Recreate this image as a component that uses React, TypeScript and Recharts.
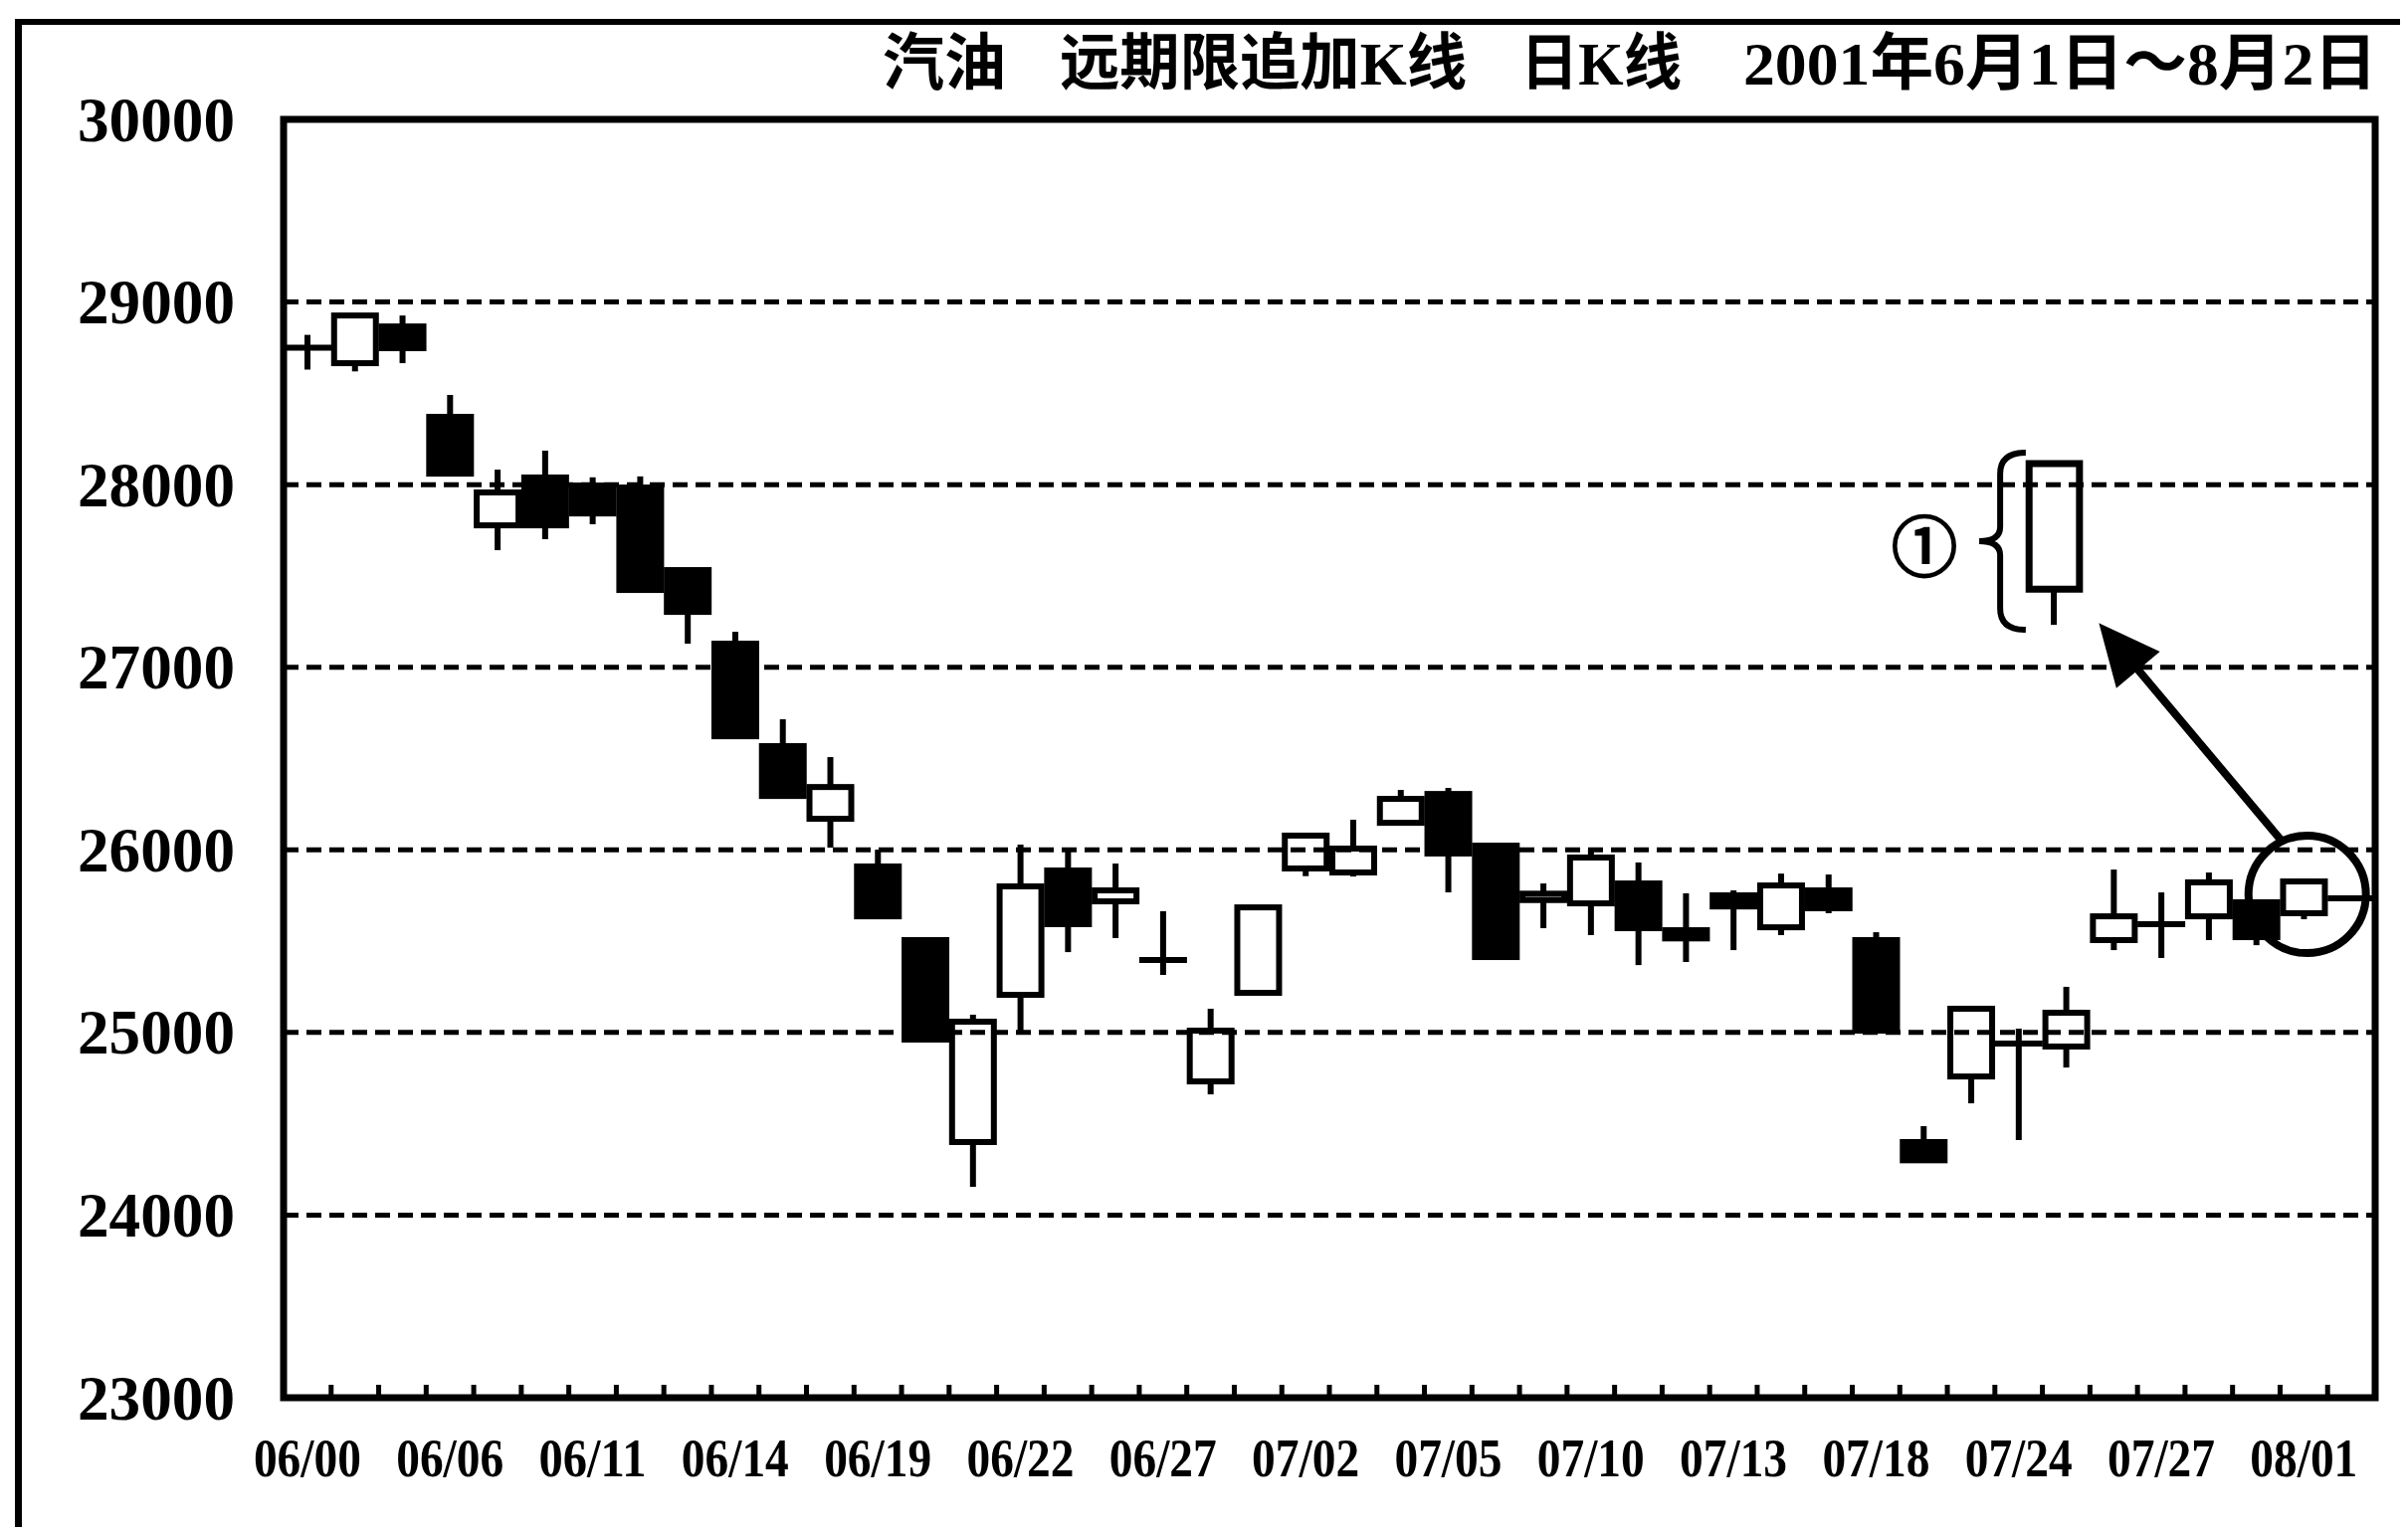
import React from 'react';
import { ComposedChart, Bar, XAxis, YAxis, ReferenceLine, ReferenceArea, ReferenceDot } from 'recharts';

// ---- data ----
const dates = [
  '06/01', '06/04', '06/05', '06/06', '06/07', '06/08', '06/11', '06/12', '06/13', '06/14', '06/15',
  '06/18', '06/19', '06/20', '06/21', '06/22', '06/25', '06/26', '06/27', '06/28', '06/29',
  '07/02', '07/03', '07/04', '07/05', '07/06', '07/09', '07/10', '07/11', '07/12', '07/13',
  '07/16', '07/17', '07/18', '07/19', '07/23', '07/24', '07/25', '07/26', '07/27', '07/30', '07/31',
  '08/01', '08/02',
];
const opens = [
  28750, 28665, 28866, 28371, 27777, 28039, 27995, 27984, 27532, 27129, 26568,
  26170, 25909, 25506, 24400, 25206, 25887, 25718, 25397, 24732, 25217,
  25898, 25876, 26148, 26306, 26023, 25725, 25707, 25816, 25560, 25751,
  25576, 25778, 25506, 24400, 24759, 24939, 24923, 25506, 25593, 25636, 25713,
  25653, 25734,
];
const highs = [
  28820, 28926, 28926, 28491, 28082, 28186, 28040, 28045, 27540, 27194, 26715,
  26508, 26001, 25506, 25097, 26029, 25996, 25925, 25664, 25130, 25685,
  26078, 26165, 26328, 26339, 26023, 25816, 26007, 25931, 25762, 25778,
  25870, 25865, 25549, 24487, 25140, 25021, 25250, 25892, 25767, 25876, 25720,
  25840, 25750,
];
const lows = [
  28630, 28620, 28665, 28060, 27641, 27701, 27783, 27423, 27129, 26622, 26290,
  26012, 25636, 24961, 24155, 24994, 25440, 25517, 25315, 24661, 25217,
  25856, 25854, 26148, 25767, 25413, 25571, 25533, 25369, 25386, 25451,
  25533, 25653, 25010, 24296, 24612, 24411, 24808, 25451, 25408, 25506, 25478,
  25620, 25720,
];
const closes = [
  28750, 28926, 28747, 28060, 27957, 27777, 27842, 27423, 27303, 26622, 26295,
  26344, 25636, 24961, 25059, 25800, 25593, 25778, 25397, 25010, 25685,
  26078, 26007, 26279, 25980, 25413, 25760, 25958, 25571, 25515, 25690,
  25805, 25680, 25010, 24300, 25130, 24939, 25108, 25636, 25593, 25822, 25522,
  25827, 25734,
];
const tickLabels = [
  '06/00', '06/06', '06/11', '06/14', '06/19', '06/22', '06/27', '07/02',
  '07/05', '07/10', '07/13', '07/18', '07/24', '07/27', '08/01',
];
const yTicks = [23000, 24000, 25000, 26000, 27000, 28000, 29000, 30000];
const gridValues = [24000, 25000, 26000, 27000, 28000, 29000];

// annotation (example long white candle, brace, circled mark, arrow)
const noteBodyX = [36.72, 37.78];
const noteBodyY = [27428, 28115];
const noteWick = { x: 37.24, from: 27428, to: 27232 };
const braceX = [35.67, 36.65];
const braceY = [27205, 28175];
const markPos = { x: 34.52, y: 27684 };
const circlePos = { x: 42.57, y: 25756 };
const arrowFrom = { x: 42.03, y: 26050 };
const arrowTo = { x: 38.22, y: 27232 };

const chartData = dates.map((d, i) => ({
  date: d,
  xi: i + 0.5,
  range: [lows[i], highs[i]],
  open: opens[i],
  high: highs[i],
  low: lows[i],
  close: closes[i],
}));

const numTicks: number[] = [];
for (let i = 1; i < dates.length; i++) numTicks.push(i);
tickLabels.forEach((_, j) => numTicks.push(j * 3 + 0.5));
numTicks.sort((a, b) => a - b);

const SERIF = '"Liberation Serif", "Times New Roman", "Noto Sans CJK SC", serif';

const Candle = (props: any) => {
  const { x, y, width, height, payload } = props;
  if (x == null || y == null || !payload) return null;
  const top = Math.min(y, y + height);
  const h = Math.abs(height);
  const { open, close, high, low } = payload;
  const k = h / (high - low);
  const py = (v: number) => top + (high - v) * k;
  const cx = x + width / 2;
  const bodyTop = py(Math.max(open, close));
  const bodyBot = py(Math.min(open, close));
  const up = close > open;
  const doji = open === close;
  return (
    <g>
      <line x1={cx} x2={cx} y1={top} y2={top + h} stroke="#000" strokeWidth={6} />
      {doji ? (
        <line x1={x - 1} x2={x + width + 1} y1={bodyTop} y2={bodyTop} stroke="#000" strokeWidth={6} />
      ) : (
        <rect
          x={x + 2}
          y={bodyTop}
          width={width - 4}
          height={Math.max(bodyBot - bodyTop, 5)}
          fill={up ? '#fff' : '#000'}
          stroke="#000"
          strokeWidth={6}
        />
      )}
    </g>
  );
};

const XTick = (props: any) => {
  const { x, y, payload } = props;
  const v = payload.value;
  if (Number.isInteger(v)) {
    return <line x1={x} x2={x} y1={y} y2={y - 13} stroke="#000" strokeWidth={5} />;
  }
  const label = tickLabels[Math.round((v - 0.5) / 3)];
  return (
    <text
      x={x}
      y={y + 61}
      textAnchor="middle"
      dominantBaseline="central"
      fontFamily={SERIF}
      fontWeight="bold"
      fontSize={54}
      textLength={108}
      lengthAdjust="spacingAndGlyphs"
      fill="#000"
    >
      {label}
    </text>
  );
};

const YTick = (props: any) => {
  const { x, y, payload } = props;
  return (
    <text
      x={x - 49}
      y={y}
      textAnchor="end"
      dominantBaseline="central"
      fontFamily={SERIF}
      fontWeight="bold"
      fontSize={64}
      textLength={158}
      lengthAdjust="spacingAndGlyphs"
      fill="#000"
    >
      {payload.value}
    </text>
  );
};

const Brace = (props: any) => {
  const { x, y, width, height } = props;
  if (x == null) return null;
  const w = width;
  const h = height;
  const m = x + w * 0.45;
  const d = `M ${x + w} ${y} Q ${m} ${y} ${m} ${y + h * 0.12} L ${m} ${y + h * 0.42} Q ${m} ${y + h * 0.5} ${x} ${y + h * 0.5} Q ${m} ${y + h * 0.5} ${m} ${y + h * 0.58} L ${m} ${y + h * 0.88} Q ${m} ${y + h} ${x + w} ${y + h}`;
  return <path d={d} fill="none" stroke="#000" strokeWidth={6} />;
};

const Arrow = (props: any) => {
  const { x1, y1, x2, y2 } = props;
  if (x1 == null) return null;
  const dx = x2 - x1;
  const dy = y2 - y1;
  const len = Math.sqrt(dx * dx + dy * dy) || 1;
  const ux = dx / len;
  const uy = dy / len;
  const hl = 58;
  const hw = 27;
  const bx = x2 - ux * hl;
  const by = y2 - uy * hl;
  const px = -uy;
  const py = ux;
  return (
    <g>
      <line x1={x1} y1={y1} x2={bx + ux * 4} y2={by + uy * 4} stroke="#000" strokeWidth={8} />
      <polygon
        points={`${x2},${y2} ${bx + px * hw},${by + py * hw} ${bx - px * hw},${by - py * hw}`}
        fill="#000"
        stroke="#000"
        strokeWidth={2}
      />
    </g>
  );
};

const Mark = (props: any) => {
  const { cx, cy } = props;
  if (cx == null) return null;
  return (
    <text
      x={cx}
      y={cy}
      textAnchor="middle"
      dominantBaseline="central"
      fontFamily='"Noto Sans CJK SC", "DejaVu Sans", sans-serif'
      fontSize={66}
      fill="#000"
      stroke="#000"
      strokeWidth={2.5}
    >
      ①
    </text>
  );
};

const titleParts = [
  { text: '汽油', x: 879, len: 124 },
  { text: '远期限追加K线', x: 1057, len: 409 },
  { text: '日K线', x: 1520, len: 162 },
  { text: '2001年6月1日～8月2日', x: 1744, len: 637 },
];

export default function App() {
  return (
    <div style={{ position: 'relative', width: 2404, height: 1527, background: '#fff' }}>
      <div
        style={{
          position: 'absolute',
          left: 7,
          top: 11,
          right: -6,
          bottom: -6,
          borderLeft: '7px solid #000',
          borderTop: '6px solid #000',
          pointerEvents: 'none',
        }}
      />
      <svg
        width={2404}
        height={110}
        style={{ position: 'absolute', left: 0, top: 0, pointerEvents: 'none' }}
      >
        {titleParts.map((p) => (
          <text
            key={p.text}
            x={p.x}
            y={56}
            dominantBaseline="central"
            fontFamily={SERIF}
            fontWeight="bold"
            fontSize={62}
            textLength={p.len}
            lengthAdjust="spacingAndGlyphs"
            fill="#000"
          >
            {p.text}
          </text>
        ))}
      </svg>
      <div style={{ position: 'absolute', left: 0, top: 0 }}>
        <ComposedChart
          width={2404}
          height={1527}
          data={chartData}
          margin={{ top: 112, right: 25, left: 0, bottom: 50 }}
          barCategoryGap={0}
        >
          <XAxis
            xAxisId="num"
            dataKey="xi"
            type="number"
            domain={[0, 44]}
            allowDataOverflow
            ticks={numTicks}
            interval={0}
            height={80}
            axisLine={false}
            tickLine={false}
            tickSize={0}
            tickMargin={0}
            tick={<XTick />}
          />
          <XAxis xAxisId="cat" dataKey="date" type="category" hide height={0} />
          <YAxis
            yAxisId="y"
            type="number"
            domain={[23000, 30000]}
            allowDataOverflow
            ticks={yTicks}
            interval={0}
            width={277}
            axisLine={false}
            tickLine={false}
            tickSize={0}
            tickMargin={0}
            tick={<YTick />}
          />
          {gridValues.map((g) => (
            <ReferenceLine
              key={g}
              xAxisId="num"
              yAxisId="y"
              y={g}
              stroke="#000"
              strokeWidth={5}
              strokeDasharray="15 8"
            />
          ))}
          <Bar
            xAxisId="cat"
            yAxisId="y"
            dataKey="range"
            barSize={46}
            shape={<Candle />}
            isAnimationActive={false}
          />
          <ReferenceArea
            xAxisId="num"
            yAxisId="y"
            x1={0}
            x2={44}
            y1={23000}
            y2={30000}
            fill="none"
            fillOpacity={0}
            stroke="#000"
            strokeWidth={7}
            ifOverflow="visible"
          />
          <ReferenceLine
            xAxisId="num"
            yAxisId="y"
            segment={[
              { x: noteWick.x, y: noteWick.from },
              { x: noteWick.x, y: noteWick.to },
            ]}
            stroke="#000"
            strokeWidth={6}
          />
          <ReferenceArea
            xAxisId="num"
            yAxisId="y"
            x1={noteBodyX[0]}
            x2={noteBodyX[1]}
            y1={noteBodyY[0]}
            y2={noteBodyY[1]}
            fill="#fff"
            fillOpacity={1}
            stroke="#000"
            strokeWidth={7}
          />
          <ReferenceArea
            xAxisId="num"
            yAxisId="y"
            x1={braceX[0]}
            x2={braceX[1]}
            y1={braceY[0]}
            y2={braceY[1]}
            shape={<Brace />}
          />
          <ReferenceDot
            xAxisId="num"
            yAxisId="y"
            x={markPos.x}
            y={markPos.y}
            r={30}
            shape={<Mark />}
          />
          <ReferenceDot
            xAxisId="num"
            yAxisId="y"
            x={circlePos.x}
            y={circlePos.y}
            r={59}
            fill="none"
            fillOpacity={0}
            stroke="#000"
            strokeWidth={8}
            ifOverflow="visible"
          />
          <ReferenceLine
            xAxisId="num"
            yAxisId="y"
            segment={[arrowFrom, arrowTo]}
            shape={<Arrow />}
          />
        </ComposedChart>
      </div>
    </div>
  );
}
